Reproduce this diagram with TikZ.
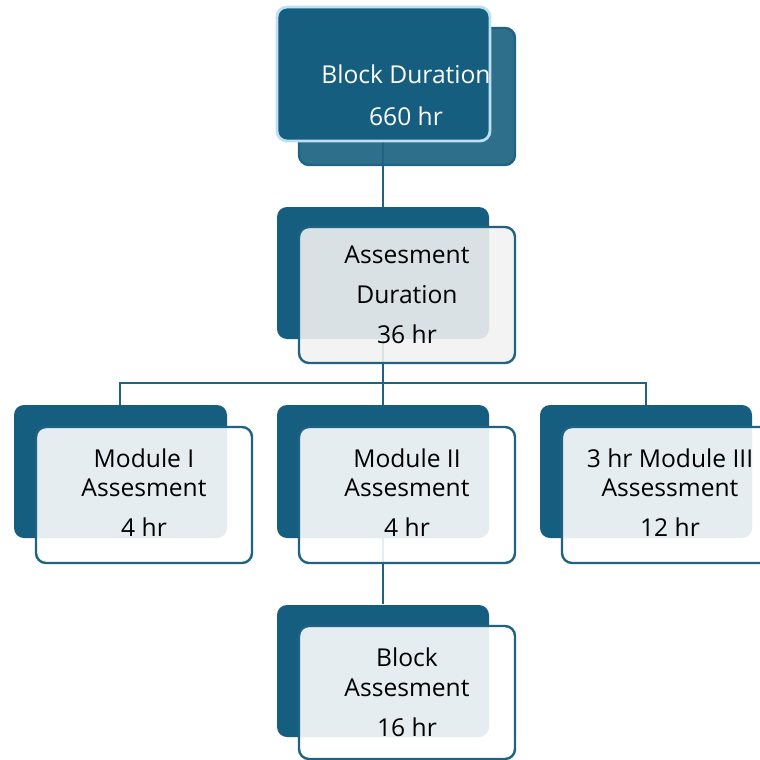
\documentclass[tikz,border=0pt]{standalone}
\usepackage{fontspec}
\setmainfont{Open Sans}
\definecolor{navy}{HTML}{165E80}
\definecolor{navysoft}{HTML}{2E6F8C}
\definecolor{edge}{HTML}{1F6282}
\definecolor{rim}{HTML}{BDE0F2}
\definecolor{paper}{HTML}{F2F2F2}
\begin{document}
\begin{tikzpicture}[x=0.5pt,y=-0.5pt,
  backbox/.style={fill=navy,draw=none,rounded corners=5pt},
  frontbox/.style={fill=white,fill opacity=0.89,draw=edge,line width=1.2pt,rounded corners=5pt},
  grayfront/.style={frontbox,fill=paper},
  link/.style={draw=edge,line width=1.2pt},
  lbl/.style={anchor=base,inner sep=0pt,font=\fontsize{12.3pt}{14pt}\selectfont},
  wlbl/.style={lbl,text=white}]
\useasboundingbox (0,0) rectangle (760,760);

% --- top element: Block Duration ---
\path[fill=navysoft,draw=edge,line width=1.2pt,rounded corners=5pt] (299,28) rectangle (515,165);
\coordinate (topout) at (383,140);
\coordinate (asmin) at (383,207);
\draw[link] (topout) -- (asmin);
\path[fill=navy,draw=rim,line width=1.4pt,rounded corners=5pt] (277,7) rectangle (490,141);
\node[wlbl] (bd1) at (406,83) {Block Duration};
\node[wlbl] (bd2) at (406,125) {660 hr};

% --- back plates of the lower elements ---
\path[backbox] (277,207) rectangle (489,339);
\path[backbox] (14,405) rectangle (227,538);
\path[backbox] (277,405) rectangle (489,538);
\path[backbox] (540,405) rectangle (752,538);
\path[backbox] (277,605) rectangle (489,737);

% --- connectors ---
\coordinate (asmout) at (383,339);
\coordinate (hub) at (383,383);
\coordinate (hubl) at (120,383);
\coordinate (hubr) at (646,383);
\coordinate (m1in) at (120,405);
\coordinate (m2in) at (383,405);
\coordinate (m3in) at (646,405);
\coordinate (m2out) at (383,538);
\coordinate (blkin) at (383,604);
\draw[link] (asmout) -- (m2in);
\draw[link] (m1in) -- (hubl) -- (hubr) -- (m3in);
\draw[link] (m2out) -- (blkin);

% --- translucent front plates ---
\path[grayfront] (299,227) rectangle (515,363);
\path[frontbox] (36,427) rectangle (252,563);
\path[frontbox] (299,427) rectangle (515,563);
\path[frontbox] (562,427) rectangle (778,563);
\path[frontbox] (299,626) rectangle (515,759);

% --- labels ---
\node[lbl] (ad1) at (407,263) {Assesment};
\node[lbl] (ad2) at (407,303) {Duration};
\node[lbl] (ad3) at (407,343) {36 hr};

\node[lbl] (ma1) at (144,467) {Module I};
\node[lbl] (ma2) at (144,496) {Assesment};
\node[lbl] (ma3) at (144,536) {4 hr};

\node[lbl] (mb1) at (407,467) {Module II};
\node[lbl] (mb2) at (407,496) {Assesment};
\node[lbl] (mb3) at (407,536) {4 hr};

\node[lbl] (mc1) at (670,467) {3 hr Module III};
\node[lbl] (mc2) at (670,496) {Assessment};
\node[lbl] (mc3) at (670,536) {12 hr};

\node[lbl] (ba1) at (407,666) {Block};
\node[lbl] (ba2) at (407,696) {Assesment};
\node[lbl] (ba3) at (407,736) {16 hr};
\end{tikzpicture}
\end{document}
